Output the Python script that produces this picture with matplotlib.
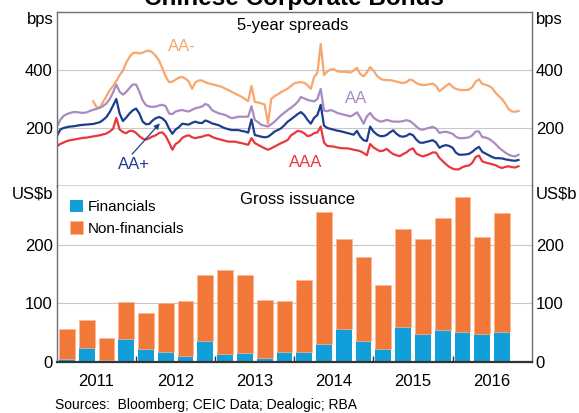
import matplotlib.pyplot as plt
import numpy as np

plt.rcParams['font.family'] = ['Liberation Sans', 'DejaVu Sans']

spread_dates = 2011 + np.arange(141) / 24
aaa = [137, 145, 150, 155, 158, 160, 162, 164, 166, 167,
       169, 171, 173, 175, 178, 181, 188, 197, 235, 195,
       186, 182, 190, 190, 183, 172, 163, 160, 165, 171,
       175, 183, 185, 172, 150, 125, 145, 152, 166, 172,
       175, 168, 165, 168, 170, 174, 176, 170, 165, 162,
       159, 156, 153, 153, 153, 150, 148, 145, 142, 165,
       148, 142, 136, 130, 125, 130, 136, 142, 148, 153,
       159, 175, 182, 190, 188, 182, 172, 175, 182, 185,
       205, 150, 138, 137, 136, 133, 131, 130, 130, 128,
       125, 123, 120, 114, 106, 145, 133, 126, 120, 122,
       128, 118, 110, 106, 103, 110, 116, 125, 130, 112,
       106, 102, 106, 110, 116, 115, 97, 86, 75, 66,
       60, 57, 58, 65, 69, 71, 80, 100, 105, 85,
       81, 78, 75, 72, 66, 62, 66, 68, 65, 64,
       68]
aa_plus = [172, 195, 200, 203, 205, 206, 208, 210, 211, 212,
           213, 214, 217, 220, 228, 238, 255, 277, 300, 250,
           224, 236, 250, 261, 267, 250, 222, 213, 214, 226,
           234, 238, 233, 222, 198, 180, 195, 203, 215, 213,
           212, 218, 222, 218, 217, 226, 222, 216, 213, 210,
           204, 199, 196, 193, 193, 193, 190, 188, 184, 230,
           176, 173, 170, 168, 170, 178, 188, 193, 199, 210,
           222, 230, 239, 248, 255, 245, 228, 215, 235, 245,
           280, 208, 200, 197, 194, 191, 189, 186, 183, 180,
           177, 190, 170, 158, 155, 205, 188, 178, 172, 172,
           176, 185, 192, 180, 172, 170, 173, 180, 175, 160,
           150, 149, 152, 155, 158, 150, 132, 138, 141, 138,
           132, 115, 108, 108, 109, 111, 118, 128, 135, 118,
           112, 106, 100, 96, 96, 95, 92, 90, 88, 87,
           90]
aa = [205, 228, 242, 248, 252, 255, 255, 253, 252, 254,
      259, 263, 266, 270, 276, 285, 300, 322, 350, 325,
      315, 324, 338, 350, 350, 325, 295, 279, 274, 273,
      274, 278, 280, 275, 250, 248, 257, 260, 262, 259,
      257, 263, 268, 271, 274, 283, 278, 262, 256, 251,
      248, 245, 239, 234, 236, 239, 239, 239, 239, 275,
      228, 220, 211, 208, 205, 213, 222, 233, 244, 253,
      262, 270, 279, 290, 307, 302, 297, 294, 292, 300,
      335, 260, 258, 262, 258, 252, 249, 246, 243, 240,
      246, 254, 236, 215, 240, 252, 236, 228, 222, 224,
      228, 225, 222, 222, 222, 224, 227, 224, 216, 205,
      196, 194, 198, 201, 204, 198, 183, 186, 187, 184,
      180, 170, 165, 165, 166, 168, 175, 188, 188, 169,
      167, 163, 155, 145, 133, 124, 115, 108, 104, 102,
      108]
aa_minus = [np.nan] * 11 + [
    292, 272, 270, 290, 310, 330, 345, 362, 382,
    398, 425, 445, 458, 460, 457, 460, 465, 467, 460,
    448, 432, 405, 378, 358, 360, 367, 374, 376, 370,
    360, 335, 358, 364, 364, 358, 354, 351, 348, 345,
    342, 336, 331, 325, 319, 313, 308, 300, 293, 345,
    290, 288, 285, 281, 215, 300, 310, 316, 324, 330,
    336, 345, 354, 357, 358, 356, 348, 335, 376, 390,
    490, 383, 395, 402, 403, 396, 394, 394, 393, 391,
    398, 408, 386, 378, 392, 410, 398, 381, 371, 366,
    365, 365, 363, 360, 357, 355, 358, 367, 364, 355,
    350, 348, 349, 351, 353, 345, 327, 336, 345, 353,
    342, 335, 332, 331, 331, 333, 341, 360, 368, 352,
    349, 345, 338, 322, 310, 300, 284, 265, 257, 256,
    259]

# gross issuance (US$b), quarterly 2011 Q1 - 2016 Q3
quarters = 2011.125 + np.arange(23) * 0.25
financials = [4, 24, 3, 39, 21, 17, 9, 36, 13, 15, 6, 16,
              17, 31, 56, 35, 22, 59, 47, 54, 50, 47, 50]
non_financials = [52, 48, 37, 63, 63, 84, 95, 112, 144, 133, 99, 88,
                  122, 224, 154, 143, 109, 167, 162, 192, 231, 166, 204]
years = [2011, 2012, 2013, 2014, 2015, 2016]

c_aaa = '#E8383D'
c_aap = '#1E3D8F'
c_aa = '#A98BC2'
c_aam = '#F8A66B'
c_fin = '#129FD9'
c_nonfin = '#F2783A'

fig = plt.figure(figsize=(5.79, 4.13), dpi=100)
ax1 = fig.add_axes([0.0984, 0.5496, 0.8199, 0.4213])
ax2 = fig.add_axes([0.0984, 0.1242, 0.8199, 0.4254])

# title sits partly above the canvas, as in the original
fig.text(0.508, 0.9867, 'Chinese Corporate Bonds', ha='center', va='baseline',
         fontsize=17.5, fontweight='bold')

# top panel: spreads
ax1.plot(spread_dates, aa_minus, color=c_aam, lw=1.6)
ax1.plot(spread_dates, aa, color=c_aa, lw=1.6)
ax1.plot(spread_dates, aa_plus, color=c_aap, lw=1.6)
ax1.plot(spread_dates, aaa, color=c_aaa, lw=1.6)
ax1.set_xlim(2011, 2017)
ax1.set_ylim(0, 600)
ax1.set_yticks([200, 400])
ax1.set_xticks([])
ax1.text(0.496, 0.92, '5-year spreads', transform=ax1.transAxes,
         ha='center', va='center', fontsize=12)
ax1.text(2012.58, 482, 'AA-', color=c_aam, ha='center', va='center', fontsize=12)
ax1.text(2014.78, 302, 'AA', color=c_aa, ha='center', va='center', fontsize=12)
ax1.text(2011.97, 74, 'AA+', color=c_aap, ha='center', va='center', fontsize=12)
ax1.text(2014.14, 82, 'AAA', color=c_aaa, ha='center', va='center', fontsize=12)
ax1.annotate('', xy=(2012.30, 216), xytext=(2011.95, 110),
             arrowprops=dict(arrowstyle='-|>', color=c_aap, lw=0.9,
                             mutation_scale=8, shrinkA=0, shrinkB=0))
ax1.text(-0.008, 1.0, 'bps', transform=ax1.transAxes, ha='right', va='top', fontsize=12)
ax1.text(1.008, 1.0, 'bps', transform=ax1.transAxes, ha='left', va='top', fontsize=12)

# bottom panel: issuance
ax2.bar(quarters, financials, width=0.2, color=c_fin, label='Financials')
ax2.bar(quarters, non_financials, bottom=financials, width=0.2, color=c_nonfin,
        edgecolor='#F8B894', linewidth=0.5, label='Non-financials')
ax2.set_xlim(2011, 2017)
ax2.set_ylim(0, 300)
ax2.set_yticks([0, 100, 200])
ax2.set_xticks(years[1:])
ax2.set_xticklabels([])
ax2.set_xticks([y + 0.5 for y in years], minor=True)
ax2.set_xticklabels([str(y) for y in years], minor=True)
ax2.tick_params(axis='x', which='major', direction='in', length=4, width=1, color='#333333')
ax2.tick_params(axis='x', which='minor', length=0, pad=9, labelsize=12)
ax2.text(0.506, 0.926, 'Gross issuance', transform=ax2.transAxes,
         ha='center', va='center', fontsize=12)
ax2.legend(loc='upper left', bbox_to_anchor=(0.027, 0.92), frameon=False, fontsize=11,
           handlelength=0.85, handleheight=0.85, handletextpad=0.3,
           labelspacing=0.45, borderpad=0, borderaxespad=0)
ax2.text(-0.008, 1.0, 'US$b', transform=ax2.transAxes, ha='right', va='top', fontsize=12)
ax2.text(1.008, 1.0, 'US$b', transform=ax2.transAxes, ha='left', va='top', fontsize=12)

for ax in (ax1, ax2):
    ax.yaxis.grid(True, color='#c8c8c8', lw=0.8)
    ax.set_axisbelow(True)
    ax.tick_params(axis='y', which='both', length=0, pad=3, labelsize=12,
                   labelleft=True, labelright=True)
    for side in ('left', 'right', 'top'):
        ax.spines[side].set_color('#707070')
        ax.spines[side].set_linewidth(1)

ax1.spines['bottom'].set_color('#222222')
ax1.spines['bottom'].set_linewidth(1)
ax2.spines['top'].set_visible(False)
ax2.spines['bottom'].set_color('#333333')
ax2.spines['bottom'].set_linewidth(1.6)

fig.text(55 / 579, 1 - 405 / 413, 'Sources:  Bloomberg; CEIC Data; Dealogic; RBA',
         fontsize=10, va='center', ha='left')

fig.savefig('out.png', dpi=100)
